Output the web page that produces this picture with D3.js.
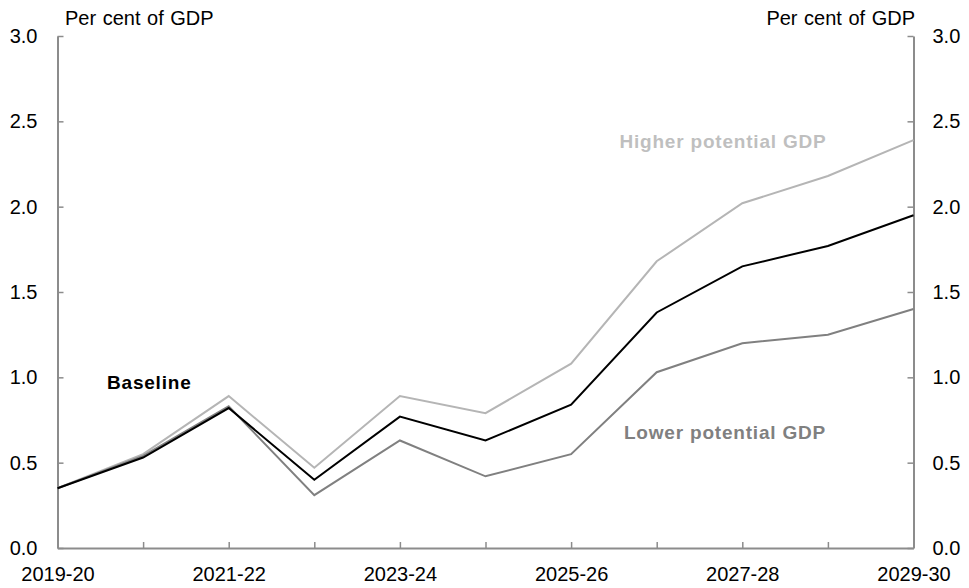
<!DOCTYPE html>
<html><head><meta charset="utf-8">
<script src="https://cdn.jsdelivr.net/npm/d3@7"></script>
<style>
html,body{margin:0;padding:0;background:#fff;}
svg{display:block;font-family:"Liberation Sans",Arial,sans-serif;}
</style></head>
<body><svg id="c" width="969" height="588"></svg>
<script>
const categories = ["2019-20","2020-21","2021-22","2022-23","2023-24","2024-25","2025-26","2026-27","2027-28","2028-29","2029-30"];
const tickLabels = ["2019-20","2021-22","2023-24","2025-26","2027-28","2029-30"];
const yTicks = [0,0.5,1.0,1.5,2.0,2.5,3.0];
const baseline = [0.35,0.53,0.82,0.40,0.77,0.63,0.84,1.38,1.65,1.77,1.95];
const higher   = [0.35,0.55,0.89,0.47,0.89,0.79,1.08,1.68,2.02,2.18,2.39];
const lower    = [0.35,0.54,0.83,0.31,0.63,0.42,0.55,1.03,1.20,1.25,1.40];
const seriesNames = ["Higher potential GDP","Lower potential GDP","Baseline"];

const svg = d3.select("#c");
const L = 57.5, R = 913.5, T = 36, B = 548;
const x = d3.scalePoint().domain(categories).range([L, R]);
const y = d3.scaleLinear().domain([0,3]).range([B, T]);
const axisColor = "#8c8c8c";

// axes
const gl = svg.append("g").attr("transform",`translate(${L},0)`)
  .call(d3.axisLeft(y).tickValues(yTicks).tickSizeInner(-6).tickSizeOuter(0).tickPadding(20).tickFormat(d3.format(".1f")));
const gr = svg.append("g").attr("transform",`translate(${R},0)`)
  .call(d3.axisRight(y).tickValues(yTicks).tickSizeInner(-6).tickSizeOuter(0).tickPadding(19).tickFormat(d3.format(".1f")));
const gb = svg.append("g").attr("transform",`translate(0,${B})`)
  .call(d3.axisBottom(x).tickSizeInner(-6).tickSizeOuter(0).tickPadding(0)
    .tickFormat(d => tickLabels.includes(d) ? d : ""));
[gl,gr,gb].forEach(g=>{
  g.select(".domain").attr("stroke",axisColor).attr("stroke-width",2);
  g.selectAll(".tick line").attr("stroke",axisColor).attr("stroke-width",1.5);
  g.selectAll("text").attr("fill","#000").attr("font-size",20).attr("font-family","Liberation Sans, Arial, sans-serif");
});
gl.selectAll("text").attr("x",-20);
gb.selectAll("text").attr("dy",null).attr("y",33);

// header units
svg.append("text").attr("x",65).attr("y",25).attr("font-size",20).attr("word-spacing",1).text("Per cent of GDP");
svg.append("text").attr("x",915).attr("y",25).attr("font-size",20).attr("word-spacing",1).attr("text-anchor","end").text("Per cent of GDP");

// lines
const line = d3.line().x((d,i)=>x(categories[i])).y(d=>y(d));
const series = [
  {name:seriesNames[0], data:higher, color:"#b5b5b5"},
  {name:seriesNames[1], data:lower, color:"#808080"},
  {name:seriesNames[2], data:baseline, color:"#000000"}
];
series.forEach(s=>{
  svg.append("path").attr("d",line(s.data)).attr("fill","none")
    .attr("stroke",s.color).attr("stroke-width",2).attr("stroke-linejoin","miter");
});

// labels
svg.append("text").attr("x",723).attr("y",148).attr("text-anchor","middle")
  .attr("font-size",19).attr("font-weight","bold").attr("letter-spacing",0.8).attr("fill","#bfbfbf").text(seriesNames[0]);
svg.append("text").attr("x",725).attr("y",439).attr("text-anchor","middle")
  .attr("font-size",19).attr("font-weight","bold").attr("letter-spacing",0.8).attr("fill","#808080").text(seriesNames[1]);
svg.append("text").attr("x",107).attr("y",389)
  .attr("font-size",19).attr("font-weight","bold").attr("letter-spacing",0.8).attr("fill","#000").text(seriesNames[2]);
</script></body></html>
